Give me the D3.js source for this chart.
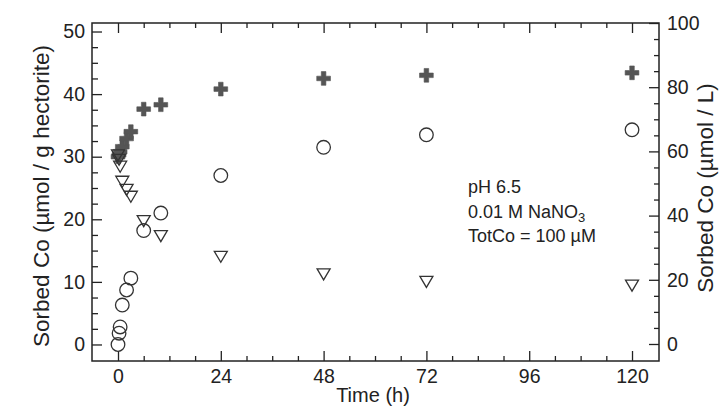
<!DOCTYPE html>
<html>
<head>
<meta charset="utf-8">
<script src="https://cdn.jsdelivr.net/npm/d3@7"></script>
<style>
  body { margin: 0; background: #fff; }
  text { font-family: "Liberation Sans", Arial, sans-serif; fill: #222; }
</style>
</head>
<body>
<svg id="chart"></svg>
<script>
// time points (h)
const times = [0, 0.25, 0.5, 1, 2, 3, 6, 10, 24, 48, 72, 120];
// sorbed Co, umol / g hectorite (open circles)
const sorbed = [0, 1.8, 2.8, 6.3, 8.7, 10.6, 18.2, 21.0, 27.0, 31.5, 33.5, 34.3];
// open triangles
const dissolved = [30.2, 29.5, 28.4, 26.0, 24.7, 23.6, 19.7, 17.3, 14.0, 11.2, 10.0, 9.4];
// filled crosses
const total = [30.0, 30.3, 30.8, 31.6, 32.9, 34.0, 37.6, 38.3, 40.8, 42.5, 43.0, 43.4];

const xMajor = [0, 24, 48, 72, 96, 120];
const yLeftMajor = [0, 10, 20, 30, 40, 50];
const yRightMajor = [0, 20, 40, 60, 80, 100];

const width = 719, height = 407;
const svg = d3.select("#chart").attr("width", width).attr("height", height);

const frame = {left: 92, right: 659, top: 23, bottom: 361};

const x = d3.scaleLinear().domain([-6.07, 126.3]).range([frame.left, frame.right]);
const yL = d3.scaleLinear().domain([-2.64, 51.36]).range([frame.bottom, frame.top]);
const yR = d3.scaleLinear().domain([-5.3, 100]).range([frame.bottom, frame.top]);

const xMinor = d3.range(0, 126, 6).filter(v => v % 24 !== 0);
const yLeftMinor = d3.range(0, 51, 2.5).filter(v => v % 10 !== 0);
const yRightMinor = d3.range(0, 100, 5).filter(v => v % 20 !== 0);

function styleAxis(g) {
    g.select(".domain").remove();
    g.selectAll(".tick line").attr("stroke", "#222").attr("stroke-width", 1.3);
    g.selectAll(".tick text").attr("font-size", 19.5).attr("fill", "#222");
}

// bottom axis, ticks pointing in
svg.append("g")
    .attr("transform", `translate(0,${frame.bottom})`)
    .call(d3.axisBottom(x).tickValues(xMajor).tickSize(-10).tickPadding(8).tickFormat(d3.format("d")))
    .call(styleAxis);
svg.append("g")
    .attr("transform", `translate(0,${frame.bottom})`)
    .call(d3.axisBottom(x).tickValues(xMinor).tickSize(-5).tickFormat(""))
    .call(styleAxis);
// top ticks
svg.append("g")
    .attr("transform", `translate(0,${frame.top})`)
    .call(d3.axisTop(x).tickValues(xMajor).tickSize(-10).tickFormat(""))
    .call(styleAxis);
svg.append("g")
    .attr("transform", `translate(0,${frame.top})`)
    .call(d3.axisTop(x).tickValues(xMinor).tickSize(-5).tickFormat(""))
    .call(styleAxis);

// left axis
svg.append("g")
    .attr("transform", `translate(${frame.left},0)`)
    .call(d3.axisLeft(yL).tickValues(yLeftMajor).tickSize(-10).tickPadding(7).tickFormat(d3.format("d")))
    .call(styleAxis);
svg.append("g")
    .attr("transform", `translate(${frame.left},0)`)
    .call(d3.axisLeft(yL).tickValues(yLeftMinor).tickSize(-6).tickFormat(""))
    .call(styleAxis);

// right axis
svg.append("g")
    .attr("transform", `translate(${frame.right},0)`)
    .call(d3.axisRight(yR).tickValues(yRightMajor).tickSize(-10).tickPadding(8).tickFormat(d3.format("d")))
    .call(styleAxis);
svg.append("g")
    .attr("transform", `translate(${frame.right},0)`)
    .call(d3.axisRight(yR).tickValues(yRightMinor).tickSize(-5).tickFormat(""))
    .call(styleAxis);

// frame
svg.append("rect")
    .attr("x", frame.left).attr("y", frame.top)
    .attr("width", frame.right - frame.left).attr("height", frame.bottom - frame.top)
    .attr("fill", "none").attr("stroke", "#222").attr("stroke-width", 1.5);

// axis titles
svg.append("text")
    .attr("x", 373).attr("y", 402)
    .attr("text-anchor", "middle").attr("font-size", 20)
    .text("Time (h)");
svg.append("text")
    .attr("transform", "translate(49,196) rotate(-90)")
    .attr("text-anchor", "middle").attr("font-size", 22.5)
    .text("Sorbed Co (µmol / g hectorite)");
svg.append("text")
    .attr("transform", "translate(713,188) rotate(-90)")
    .attr("text-anchor", "middle").attr("font-size", 22.5)
    .text("Sorbed Co (µmol / L)");

// annotation
const note = svg.append("g").attr("font-size", 18);
note.append("text").attr("x", 468).attr("y", 193).text("pH 6.5");
const l2 = note.append("text").attr("x", 468).attr("y", 218);
l2.append("tspan").text("0.01 M NaNO");
l2.append("tspan").attr("font-size", 13).attr("dy", 4).text("3");
note.append("text").attr("x", 468).attr("y", 242).text("TotCo = 100 µM");

const pts = times.map((t, i) => ({t, s: sorbed[i], d: dissolved[i], tot: total[i]}));

// crosses
svg.append("g").selectAll("path")
    .data(pts).enter()
    .append("path")
    .attr("d", d3.symbol().type(d3.symbolCross).size(105))
    .attr("transform", d => `translate(${x(d.t)},${yL(d.tot)})`)
    .attr("fill", "#555").attr("stroke", "#555").attr("stroke-width", 0.6);

// triangles (down)
const tri = "M-6.5,-5.5L6.5,-5.5L0,5.5Z";
svg.append("g").selectAll("path")
    .data(pts).enter()
    .append("path")
    .attr("d", tri)
    .attr("transform", d => `translate(${x(d.t)},${yL(d.d)})`)
    .attr("fill", "none").attr("stroke", "#333").attr("stroke-width", 1.3);

// circles
svg.append("g").selectAll("circle")
    .data(pts).enter()
    .append("circle")
    .attr("cx", d => x(d.t))
    .attr("cy", d => yL(d.s))
    .attr("r", 6.8)
    .attr("fill", "none").attr("stroke", "#333").attr("stroke-width", 1.3);
</script>
</body>
</html>
